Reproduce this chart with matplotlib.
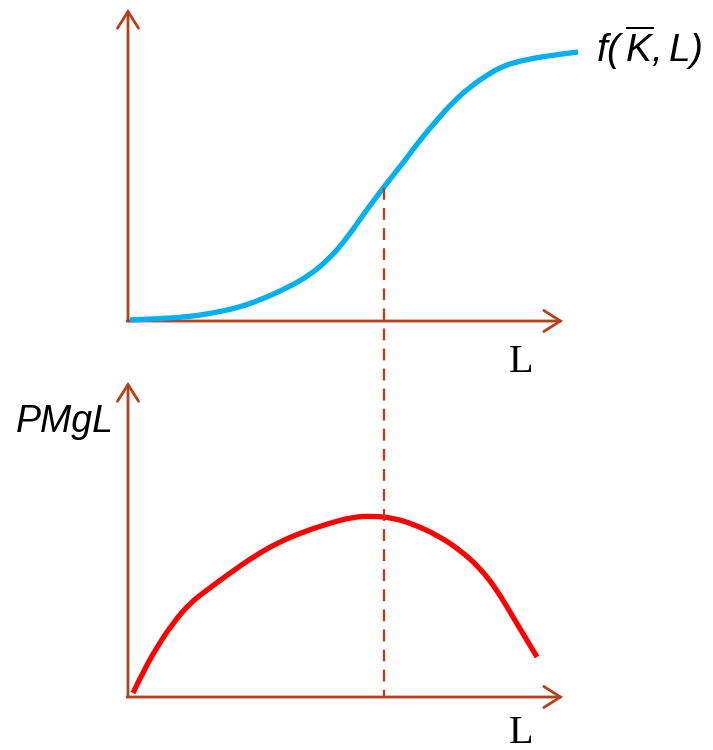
import matplotlib.pyplot as plt
from matplotlib.patches import FancyArrowPatch, PathPatch
from matplotlib.path import Path

plt.rcParams['mathtext.fontset'] = 'custom'
plt.rcParams['mathtext.it'] = 'Liberation Sans:italic'
plt.rcParams['mathtext.rm'] = 'Liberation Sans:italic'

# curve data (pixel coordinates, y grows downward)
prod_x = [130, 153, 187, 213, 237, 260, 287, 310, 330, 347, 363, 383,
          403, 420, 437, 453, 470, 487, 503, 520, 545, 578]
prod_y = [320, 319, 317, 313, 308, 300, 288, 275, 258, 238, 215, 188,
          163, 140, 120, 102, 87, 75, 66, 61, 56, 52]

pmg_x = [133, 143, 157, 173, 190, 207, 230, 253, 277, 303, 330, 353,
         373, 393, 413, 437, 460, 480, 497, 513, 537]
pmg_y = [693, 672, 647, 623, 603, 590, 573, 557, 543, 532, 523, 517,
         516, 518, 524, 535, 550, 568, 590, 617, 657]

axis_color = '#B5401A'

fig = plt.figure(figsize=(7.13, 7.5), dpi=100)
ax = fig.add_axes([0, 0, 1, 1])
ax.set_xlim(0, 713)
ax.set_ylim(750, 0)
ax.axis('off')


def arrow(x0, y0, x1, y1):
    a = FancyArrowPatch((x0, y0), (x1, y1),
                        arrowstyle='->,head_length=0.6,head_width=0.38',
                        mutation_scale=20, color=axis_color, lw=2.0,
                        shrinkA=0, shrinkB=0, joinstyle='miter')
    ax.add_patch(a)


def smooth_curve(xs, ys, color):
    # quadratic bezier through midpoints, the read points act as controls
    pts = list(zip(xs, ys))
    verts = [pts[0]]
    codes = [Path.MOVETO]
    for i in range(1, len(pts) - 1):
        mid = ((pts[i][0] + pts[i + 1][0]) / 2, (pts[i][1] + pts[i + 1][1]) / 2)
        if i == len(pts) - 2:
            mid = pts[-1]
        verts += [pts[i], mid]
        codes += [Path.CURVE3, Path.CURVE3]
    ax.add_patch(PathPatch(Path(verts, codes), fill=False, edgecolor=color,
                           lw=3.8, capstyle='butt', joinstyle='round'))


# top panel axes
arrow(128, 321, 128, 9)
arrow(127, 321, 563, 321)
# bottom panel axes
arrow(128, 697, 128, 382)
arrow(127, 697, 563, 697)

# dashed guide line
ax.plot([383.5, 383.5], [188, 697], color=axis_color, lw=1.7,
        dashes=(5, 3.5))

smooth_curve(prod_x, prod_y, '#00B0F0')
smooth_curve(pmg_x, pmg_y, '#FF0000')

ax.text(596, 62, r'$f(\,\overline{K},L)$', fontsize=28,
        va='baseline', ha='left')
ax.text(16, 432, 'PMgL', fontsize=27, fontstyle='italic',
        family='Liberation Sans', va='baseline', ha='left')
ax.text(509, 372, 'L', fontsize=29, family='Liberation Serif',
        va='baseline', ha='left')
ax.text(509, 743, 'L', fontsize=29, family='Liberation Serif',
        va='baseline', ha='left')

fig.savefig('out.png', dpi=100)
